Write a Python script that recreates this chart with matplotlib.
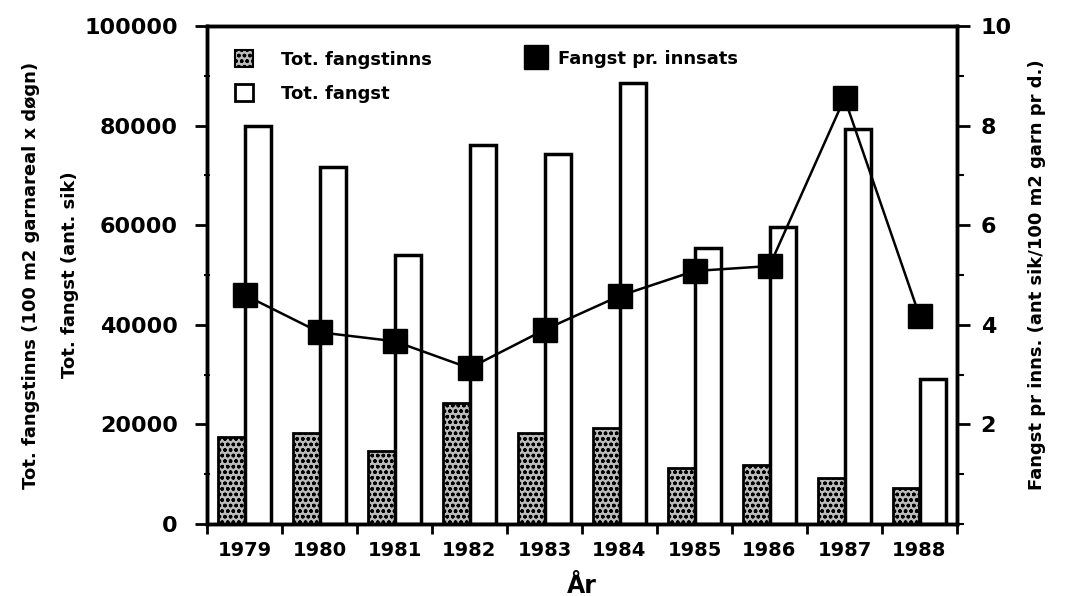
import matplotlib
matplotlib.use("Agg")
import matplotlib.pyplot as plt
import numpy as np
from matplotlib.patches import Patch
from matplotlib.lines import Line2D
from matplotlib.ticker import MultipleLocator, FixedLocator

years = ["1979", "1980", "1981", "1982", "1983", "1984", "1985", "1986", "1987", "1988"]
fangstinns = [17400, 18300, 14600, 24300, 18300, 19300, 11200, 11800, 9200, 7200]
fangst = [80000, 71700, 54000, 76100, 74300, 88600, 55400, 59600, 79300, 29100]
pr_innsats = [4.6, 3.85, 3.67, 3.13, 3.9, 4.58, 5.08, 5.18, 8.55, 4.18]

plt.rcParams['font.family'] = ['DejaVu Sans']
plt.rcParams['font.weight'] = 'bold'
plt.rcParams['hatch.linewidth'] = 1.0

fig = plt.figure(figsize=(10.69, 5.96), dpi=100)
ax = fig.add_axes([207/1069, 1-524/596, 750/1069, 498/596])
x = np.arange(len(years))
w = 0.35
ax.bar(x - w/2, fangstinns, width=w, facecolor='#bbbbbb', edgecolor='black',
       hatch='ooo', linewidth=2, zorder=2)
ax.bar(x + w/2, fangst, width=w, facecolor='white', edgecolor='black',
       linewidth=2.5, zorder=2)
ax.set_xlim(-0.5, len(years) - 0.5)
ax.set_ylim(0, 100000)
ax.yaxis.set_major_locator(MultipleLocator(20000))
ax.yaxis.set_minor_locator(MultipleLocator(10000))
ax.set_xticks(x)
ax.set_xticklabels(years)
ax.xaxis.set_minor_locator(FixedLocator(np.arange(-0.5, len(years), 1.0)))
ax.tick_params(axis='x', which='major', length=0, pad=12, labelsize=14)
ax.tick_params(axis='x', which='minor', length=7, width=2, direction='out')
ax.tick_params(axis='y', which='major', length=9, width=2, direction='out', labelsize=16, pad=12)
ax.tick_params(axis='y', which='minor', length=4, width=1.5, direction='inout')
for s in ax.spines.values():
    s.set_linewidth(2.5)
ax.set_xlabel("År", fontsize=17, fontweight='bold', labelpad=10)
ax.set_ylabel("Tot. fangstinns (100 m2 garnareal x døgn)\nTot. fangst (ant. sik)",
              fontsize=13, fontweight='bold', labelpad=4, linespacing=2.5)

ax2 = ax.twinx()
ax2.plot(x, pr_innsats, color='black', linewidth=1.8, marker='s', markersize=17, zorder=3)
ax2.set_ylim(0, 10)
ax2.yaxis.set_major_locator(MultipleLocator(2))
ax2.yaxis.set_minor_locator(MultipleLocator(1))
ax2.set_yticks([2, 4, 6, 8, 10])
ax2.tick_params(axis='y', which='major', length=9, width=2, direction='out', labelsize=16, pad=8)
ax2.tick_params(axis='y', which='minor', length=5, width=1.5, direction='out')
for s in ax2.spines.values():
    s.set_linewidth(2.5)
ax2.set_ylabel("Fangst pr inns. (ant sik/100 m2 garn pr d.)", fontsize=13,
               fontweight='bold', labelpad=12)

h1 = [Patch(facecolor='#bbbbbb', edgecolor='black', hatch='ooo', linewidth=1.5),
      Patch(facecolor='white', edgecolor='black', linewidth=2)]
leg1 = ax2.legend(h1, ["Tot. fangstinns", "Tot. fangst"], loc='upper left',
                  bbox_to_anchor=(0.015, 0.985), frameon=False, fontsize=13,
                  handlelength=1.0, handleheight=1.1, handletextpad=1.6, labelspacing=0.85)
ax2.add_artist(leg1)
h2 = [Line2D([], [], linestyle='none', marker='s', markersize=17, color='black')]
ax2.legend(h2, ["Fangst pr. innsats"], loc='upper left', bbox_to_anchor=(0.405, 0.985),
           frameon=False, fontsize=13, handlelength=1.0, handletextpad=0.7)

fig.savefig("out.png", dpi=100)
